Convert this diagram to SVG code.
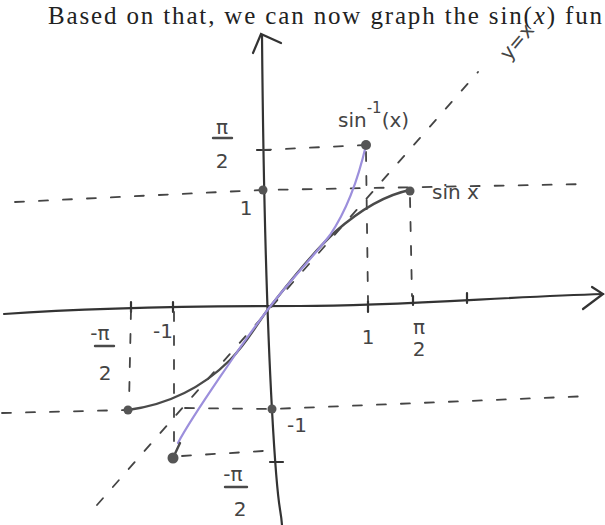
<svg xmlns="http://www.w3.org/2000/svg" width="605" height="525" viewBox="0 0 605 525">
<style>
.ax{fill:none;stroke:#333;stroke-width:2.2;stroke-linecap:round}
.ds{fill:none;stroke:#444;stroke-width:1.8;stroke-dasharray:9 15;stroke-linecap:round}
.sn{fill:none;stroke:#4a4a4a;stroke-width:2.4;stroke-linecap:round}
.pu{fill:none;stroke:#9c8fdc;stroke-width:2.2;stroke-linecap:round}
.dot{fill:#555}
.lb{font-family:"DejaVu Sans",sans-serif;fill:#444;font-size:20px}
.hd{font-family:"Liberation Serif",serif;fill:#222;font-size:25px}
</style>
<rect width="605" height="525" fill="#fff"/>
<g id="header">
<text class="hd" x="48" y="24" textLength="554" lengthAdjust="spacing">Based on that, we can now graph the sin(<tspan font-style="italic">x</tspan>) fun</text>
</g>
<g id="axes">
<path class="ax" d="M262,35 C263,150 266,300 272,410 S280,500 282,525"/>
<path class="ax" d="M253,53 L261,34 L281,43"/>
<path class="ax" d="M4,314 C100,307 200,306 300,306 S500,297 603,294"/>
<path class="ax" d="M592,287 L603,294 L583,309"/>
<path class="ax" d="M368,301 V312 M413,296 V305 M467,293 V303 M131,302 V312 M173,302 V312"/>
<path class="ax" d="M257,150 H270 M270,462 H283"/>
</g>
<g id="guides">
<path class="ds" d="M262,150 L366,145"/>
<path class="ds" d="M15,202 L262,190 L590,184"/>
<path class="ds" d="M2,413 L128,410"/>
<path class="ds" d="M185,408 L272,409 L590,396"/>
<path class="ds" d="M182,456 L263,451"/>
<path class="ds" d="M366,152 L368,300"/>
<path class="ds" d="M410,198 L412,296"/>
<path class="ds" d="M131,310 L129,404"/>
<path class="ds" d="M174,312 L174,450"/>
<path class="ds" d="M97,505 L478,72"/>
</g>
<g id="sin">
<path class="sn" d="M128,410 C165,405 200,390 230,360 C248,342 258,322 269,308 C285,288 310,255 335,232 C360,210 385,195 410,190"/>
</g>
<g id="arcsin">
<path class="pu" d="M178,443 C190,420 210,392 235,355 C250,333 260,320 269,308 C290,280 315,255 330,235 C345,213 358,180 366,145"/>
<path class="sn" d="M173,458 L180,443"/>
</g>
<g id="points">
<circle class="dot" cx="263" cy="190" r="4.5"/>
<circle class="dot" cx="366" cy="145" r="5"/>
<circle class="dot" cx="410" cy="191" r="4.5"/>
<circle class="dot" cx="128" cy="410" r="4.5"/>
<circle class="dot" cx="272" cy="409" r="4.5"/>
<circle class="dot" cx="173" cy="458" r="5.5"/>
</g>
<g id="labels">
<text class="lb" x="222" y="134" text-anchor="middle">π</text>
<path class="sn" d="M213,138 H232" stroke-width="1.8"/>
<text class="lb" x="222" y="168" text-anchor="middle">2</text>
<text class="lb" x="246" y="215" text-anchor="middle">1</text>
<text class="lb" x="368" y="344" text-anchor="middle">1</text>
<text class="lb" x="419" y="334" text-anchor="middle">π</text>
<text class="lb" x="419" y="356" text-anchor="middle">2</text>
<text class="lb" x="163" y="338" text-anchor="middle">-1</text>
<text class="lb" x="100" y="340" text-anchor="middle">-π</text>
<path class="sn" d="M95,346 H114" stroke-width="1.8"/>
<text class="lb" x="105" y="380" text-anchor="middle">2</text>
<text class="lb" x="297" y="432" text-anchor="middle">-1</text>
<text class="lb" x="233" y="481" text-anchor="middle">-π</text>
<path class="sn" d="M225,487 H247" stroke-width="1.8"/>
<text class="lb" x="240" y="516" text-anchor="middle">2</text>
<text class="lb" x="338" y="127" font-size="23">sin<tspan dy="-14" font-size="15">-1</tspan><tspan dy="14">(x)</tspan></text>
<text class="lb" x="432" y="199" font-size="23">sin x</text>
<text class="lb" transform="translate(522,46) rotate(-50)" text-anchor="middle">y=x</text>
</g>
</svg>
